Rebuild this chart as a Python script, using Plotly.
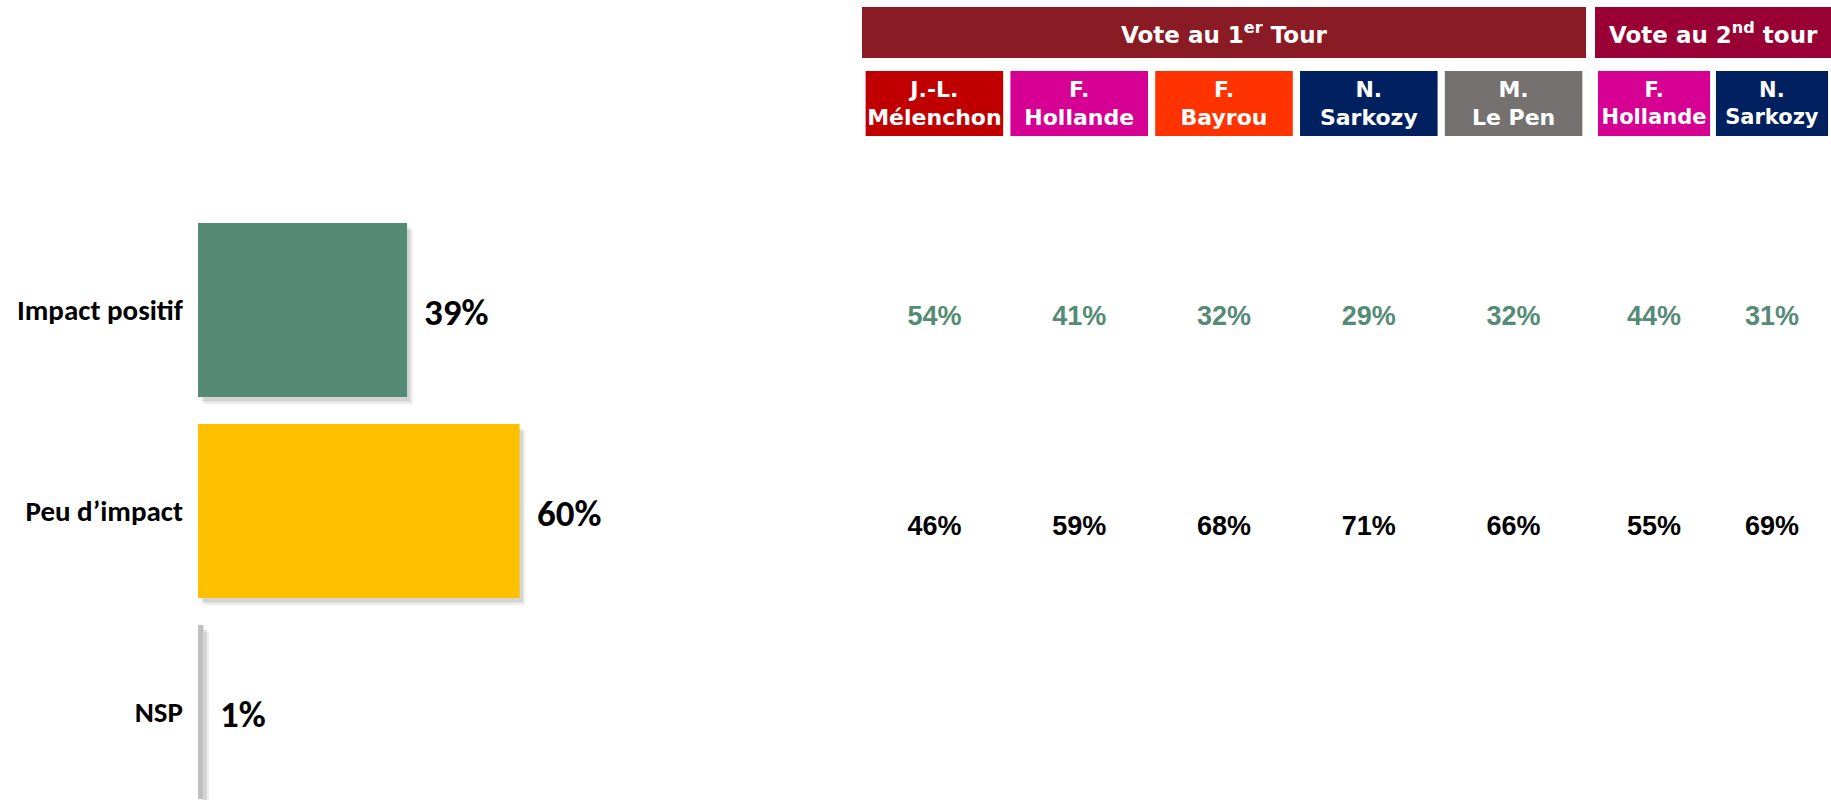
import plotly.graph_objects as go

# ---------------- data ----------------
categories = ["Impact positif", "Peu d\u2019impact", "NSP"]
overall_values = [39, 60, 1]

round1_candidates = ["J.-L.<br>Mélenchon", "F.<br>Hollande", "F.<br>Bayrou", "N.<br>Sarkozy", "M.<br>Le Pen"]
round2_candidates = ["F.<br>Hollande", "N.<br>Sarkozy"]

positive_round1 = [54, 41, 32, 29, 32]
positive_round2 = [44, 31]
low_round1 = [46, 59, 68, 71, 66]
low_round2 = [55, 69]

round1_title = "Vote au 1<sup>er</sup> Tour"
round2_title = "Vote au 2<sup>nd</sup> tour"

# ---------------- styles ----------------
bar_colors = ["#558B76", "#FFC000", "#BFBFBF"]
round1_colors = ["#C00000", "#D60093", "#FF3300", "#002060", "#767171"]
round2_colors = ["#D60093", "#002060"]
round1_header_color = "#8A1A24"
round2_header_color = "#990033"
positive_color = "#558B76"

W, H = 1831, 800
calibri = "Carlito, Lato, sans-serif"
verdana = "DejaVu Sans, Verdana, sans-serif"
arial = "Liberation Sans, Arial, sans-serif"

BAR_W = 0.866

fig = go.Figure()

# soft shadow under the bars (two layers)
for shift, alpha in [(0.035, 0.07), (0.022, 0.10)]:
    fig.add_trace(go.Bar(
        orientation="h", y=categories, x=overall_values, base=shift * 30,
        width=BAR_W, offset=-BAR_W / 2 + shift,
        marker=dict(color=f"rgba(0,0,0,{alpha})", line=dict(width=0)),
        xaxis="x", yaxis="y", hoverinfo="skip", showlegend=False,
    ))
# main bars
fig.add_trace(go.Bar(
    orientation="h", y=categories, x=overall_values,
    width=BAR_W, offset=-BAR_W / 2,
    marker=dict(color=bar_colors, line=dict(width=0)),
    xaxis="x", yaxis="y", hoverinfo="skip", showlegend=False,
))

# value labels for the bars
for cat, v in zip(categories, overall_values):
    fig.add_annotation(
        x=v, y=cat, xref="x", yref="y", text=f"{v}%", showarrow=False,
        xanchor="left", yanchor="middle", xshift=15, yshift=-2,
        font=dict(family=calibri, size=37, color="black", weight="bold"),
    )

# candidate header boxes (bars)
fig.add_trace(go.Bar(
    x=round1_candidates, y=[1] * len(round1_candidates), width=0.95,
    marker=dict(color=round1_colors, line=dict(width=0)),
    text=round1_candidates, textposition="inside", insidetextanchor="middle",
    constraintext="none",
    textfont=dict(family=verdana, size=22, color="white", weight="bold"),
    xaxis="x2", yaxis="y2", hoverinfo="skip", showlegend=False,
))
fig.add_trace(go.Bar(
    x=round2_candidates, y=[1] * len(round2_candidates), width=0.95,
    marker=dict(color=round2_colors, line=dict(width=0)),
    text=round2_candidates, textposition="inside", insidetextanchor="middle",
    constraintext="none",
    textfont=dict(family=verdana, size=21, color="white", weight="bold"),
    xaxis="x3", yaxis="y3", hoverinfo="skip", showlegend=False,
))

# value tables
for xs, vals, ax, color, row in [
    (round1_candidates, positive_round1, "x2", positive_color, categories[0]),
    (round2_candidates, positive_round2, "x3", positive_color, categories[0]),
    (round1_candidates, low_round1, "x2", "black", categories[1]),
    (round2_candidates, low_round2, "x3", "black", categories[1]),
]:
    fig.add_trace(go.Scatter(
        x=xs, y=[row] * len(xs), mode="text",
        text=[f"{v}%" for v in vals], textposition="middle center",
        textfont=dict(family=arial, size=27, color=color, weight="bold"),
        xaxis=ax, yaxis="y4", hoverinfo="skip", showlegend=False, cliponaxis=False,
    ))

# round headers
hdr_y0, hdr_y1 = (H - 58) / H, (H - 7) / H
for ax, col, title in [("x2", round1_header_color, round1_title),
                       ("x3", round2_header_color, round2_title)]:
    fig.add_shape(type="rect", xref=f"{ax} domain", yref="paper",
                  x0=0, x1=1, y0=hdr_y0, y1=hdr_y1,
                  fillcolor=col, line=dict(width=0), layer="below")
    fig.add_annotation(xref=f"{ax} domain", yref="paper", x=0.5,
                       y=(hdr_y0 + hdr_y1) / 2, text=title, showarrow=False,
                       xanchor="center", yanchor="middle",
                       font=dict(family=verdana, size=23, color="white", weight="bold"))

px_per_pct = 5.36
x0_px = 198
y_center0, y_step = 310, 201          # bar rows
t_center0, t_step = 318, 210          # table rows

fig.update_layout(
    width=W, height=H,
    margin=dict(l=0, r=0, t=0, b=0),
    paper_bgcolor="white", plot_bgcolor="rgba(0,0,0,0)",
    barmode="overlay", showlegend=False,
    xaxis=dict(domain=[x0_px / W, (x0_px + 100 * px_per_pct) / W], range=[0, 100],
               visible=False, fixedrange=True),
    yaxis=dict(domain=[0, 1], type="category", categoryarray=categories,
               range=[(H - y_center0) / y_step, -y_center0 / y_step],
               showgrid=False, zeroline=False, showline=False, ticks="",
               ticklabelstandoff=14,
               tickfont=dict(family=calibri, size=29, color="black", weight="bold"),
               anchor="x", fixedrange=True),
    yaxis4=dict(domain=[0, 1], type="category", categoryarray=categories,
                range=[(H - t_center0) / t_step, -t_center0 / t_step],
                visible=False, anchor="x2", overlaying="y"),
    xaxis2=dict(domain=[862 / W, 1586 / W], type="category", categoryarray=round1_candidates,
                range=[-0.5, len(round1_candidates) - 0.5], visible=False, anchor="y2"),
    xaxis3=dict(domain=[1595 / W, 1.0], type="category", categoryarray=round2_candidates,
                range=[-0.5, len(round2_candidates) - 0.5], visible=False, anchor="y3"),
    yaxis2=dict(domain=[(H - 136) / H, (H - 71) / H], range=[0, 1], visible=False, anchor="x2"),
    yaxis3=dict(domain=[(H - 136) / H, (H - 71) / H], range=[0, 1], visible=False, anchor="x3"),
)

fig.write_html("out.html", config={"displayModeBar": False},
               post_script="document.body.style.margin='0';document.body.style.padding='0';")
